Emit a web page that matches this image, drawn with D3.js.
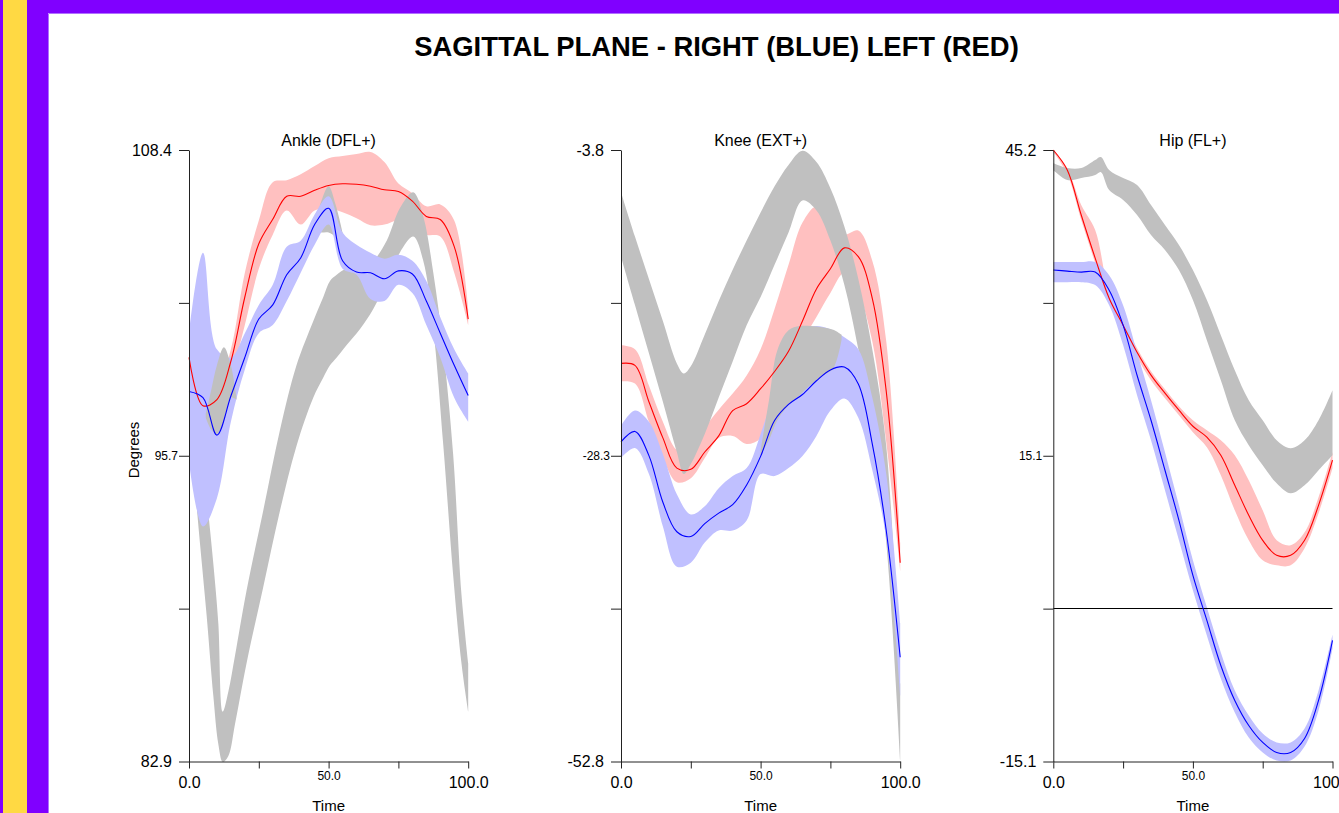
<!DOCTYPE html>
<html><head><meta charset="utf-8">
<script src="https://cdn.jsdelivr.net/npm/d3@7"></script>
<style>
body{margin:0;background:#fff;}
svg{display:block;}
text{font-family:"Liberation Sans",Arial,sans-serif;fill:#000;}
</style></head>
<body><svg id="c" width="1339" height="813"></svg>
<script>
// ---------------- DATA ----------------
const chartTitle = "SAGITTAL PLANE - RIGHT (BLUE) LEFT (RED)";
const panelTitles = ["Ankle (DFL+)", "Knee (EXT+)", "Hip (FL+)"];
const xTickLabels = ["0.0", "", "50.0", "", "100.0"];
const xTickValues = [0, 25, 50, 75, 100];
const time = [0,5,10,15,20,25,30,35,40,45,50,55,60,65,70,75,80,85,90,95,100];

// Ankle
const ankleDomain = [82.9, 108.4];
const ankleYLabels = ["108.4", "", "95.7", "", "82.9"];
const ankleRedMean = [99.75,97.74,97.99,99.59,102.27,104.49,105.51,106.47,106.47,106.72,106.92,106.99,106.97,106.89,106.74,106.67,106.27,105.63,105.50,104.37,101.35];
const ankleRedHi   = [100.01,98.24,98.49,100.09,103.28,105.46,107.06,107.14,107.39,107.73,108.06,108.15,108.23,108.32,107.90,107.0,106.6,106.05,106.13,105.46,101.77];
const ankleRedLo   = [99.50,97.23,97.40,98.91,101.10,103.45,104.87,105.88,105.29,105.88,105.97,105.80,105.55,105.26,105.29,105.46,105.21,104.87,104.79,103.28,101.10];
const ankleBlueMean = [98.33,98.07,96.51,98.14,99.75,101.35,101.94,103.20,103.90,105.29,105.97,103.78,103.31,103.28,103.03,103.36,103.23,102.10,100.76,99.42,98.16];
const ankleBlueHi   = [100.76,104.12,100.09,99.75,100.76,101.94,102.78,104.37,104.62,105.71,106.47,104.96,104.45,104.12,103.87,104.03,103.78,102.94,101.43,100.09,99.08];
const ankleBlueLo   = [95.39,92.70,93.88,97.07,99.25,100.76,101.10,102.10,103.28,104.45,105.29,103.45,103.20,102.19,102.10,102.78,102.44,101.10,99.75,98.07,97.07];
const ankleGrayT  = [0,2.2,3.9,6.3,8.7,10.5,12.1,14.1,16.5,20.6,26.6,32.6,38.5,44.5,48.1,50.5,52.9,56.4,61.2,66.0,70.8,75.5,80.3,83.9,87.5,91.1,94.6,97.6,100];
const ankleGrayHi = [100.59,98.91,96.82,93.99,91.17,88.67,84.98,85.82,87.33,90.02,93.37,96.73,99.42,101.26,102.27,102.94,103.20,103.45,103.45,103.78,104.62,105.97,106.64,105.63,103.28,100.09,95.72,89.85,86.99];
const ankleGrayLo = [96.73,94.21,92.03,89.01,85.65,83.63,82.88,83.13,84.47,86.99,90.18,93.37,96.06,98.07,98.91,99.42,99.75,100.26,100.93,101.77,102.94,104.12,104.79,103.78,100.93,96.06,90.69,86.99,84.98];
const anklePeakT  = [45,47.5,50,52.5,55];
const anklePeakHi = [105.21,106.30,106.89,106.13,104.96];
const anklePeakLo = [104.96,104.96,104.96,104.79,104.62];
const ankleBumpT  = [6,8,10,12.5,15,17];
const ankleBumpHi = [97.40,98.41,99.42,100.17,99.42,98.07];
const ankleBumpLo = [97.23,96.73,96.56,97.07,98.07,97.99];

// Knee
const kneeDomain = [-52.8, -3.8];
const kneeYLabels = ["-3.8", "", "-28.3", "", "-52.8"];
const kneeRedMean = [-20.90,-21.06,-23.97,-26.87,-29.29,-29.39,-28.00,-26.71,-24.68,-24.13,-22.93,-21.55,-19.93,-17.51,-14.93,-13.32,-11.64,-12.35,-15.68,-23.13,-36.87];
const kneeRedHi   = [-19.45,-19.77,-22.68,-25.58,-27.84,-28.00,-26.06,-24.61,-23.32,-21.87,-19.77,-16.55,-13.00,-9.61,-8.32,-9.93,-10.58,-10.26,-12.68,-19.13,-35.26];
const kneeRedLo   = [-22.35,-22.52,-25.58,-28.48,-30.42,-30.10,-28.48,-26.87,-26.71,-27.35,-26.87,-23.64,-21.71,-19.13,-17.19,-15.26,-13.64,-15.26,-19.13,-27.19,-37.52];
const kneeBlueMean = [-27.19,-26.35,-28.29,-32.03,-34.39,-34.77,-33.74,-32.90,-32.22,-30.64,-28.35,-25.48,-24.19,-23.39,-22.29,-21.42,-21.19,-22.55,-27.35,-34.29,-44.45];
const kneeBlueHi   = [-25.90,-24.68,-25.58,-28.16,-31.39,-33.00,-32.35,-30.90,-29.93,-29.29,-26.55,-23.00,-18.81,-18.16,-17.90,-18.16,-18.81,-19.77,-23.64,-29.77,-41.71];
const kneeBlueLo   = [-28.48,-27.68,-29.77,-33.97,-37.19,-36.87,-35.26,-34.29,-34.29,-33.48,-29.77,-29.93,-29.29,-28.32,-26.71,-24.68,-23.71,-25.26,-29.45,-34.93,-47.52];
const kneeGrayT  = [0,5,10,15,20,22.5,25,30,35,40,45,50,55,60,65,70,75,80,85,90,95,100];
const kneeGrayHi = [-7.19,-10.74,-14.13,-17.51,-20.90,-21.71,-21.13,-18.58,-15.90,-13.39,-11.06,-8.81,-6.71,-5.00,-3.87,-4.77,-6.87,-9.93,-14.13,-19.77,-27.51,-46.55];
const kneeGrayLo = [-12.35,-16.22,-20.09,-23.97,-28.00,-29.77,-28.97,-26.55,-23.64,-20.74,-17.84,-15.58,-13.00,-10.42,-7.84,-8.64,-11.06,-14.61,-19.77,-26.22,-35.26,-52.68];
const kneeHumpT  = [50,53,56,60,64,68,72,76,79];
const kneeHumpHi = [-27.86,-23.85,-19.84,-18.24,-17.91,-17.91,-18.0,-18.2,-18.6];
const kneeHumpLo = [-28.26,-27.06,-25.46,-24.25,-23.45,-22.6,-21.9,-21.3,-19.0];

// Hip
const hipDomain = [-15.1, 45.2];
const hipYLabels = ["45.2", "", "15.1", "", "-15.1"];
const hipRedMean = [45.2,43.23,38.79,34.54,30.59,27.93,25.26,23.00,21.22,19.54,17.96,16.88,15.10,12.14,9.18,6.71,5.23,5.23,6.71,10.16,14.61];
const hipRedHi   = [45.2,43.42,39.77,37.30,31.19,28.42,25.66,23.39,21.61,19.94,18.55,17.57,16.58,15.10,12.63,9.67,6.71,6.22,7.50,10.95,15.40];
const hipRedLo   = [45.0,42.83,38.29,34.05,30.10,27.44,24.77,22.50,20.72,19.05,17.37,15.89,13.13,9.67,6.71,4.74,4.24,4.24,5.92,9.37,13.82];
const hipBlueMean = [33.36,33.26,33.16,33.16,31.38,27.93,22.99,18.55,13.62,8.68,3.26,-1.18,-5.63,-9.08,-11.55,-13.22,-14.21,-14.21,-12.83,-9.08,-3.16];
const hipBlueHi   = [34.15,34.15,34.15,34.15,32.86,29.90,25.26,20.53,15.40,10.16,4.74,0.10,-4.34,-8.09,-10.56,-12.34,-13.22,-13.22,-11.84,-8.09,-2.57];
const hipBlueLo   = [32.17,32.17,32.17,31.88,29.90,25.96,21.02,16.58,11.64,6.71,1.78,-2.67,-6.91,-10.26,-12.73,-14.21,-15.00,-15.00,-13.62,-10.07,-3.95];
const hipGrayT  = [0,5,10,15,17,20,25,30,35,40,45,50,55,60,65,70,75,80,85,90,95,100];
const hipGrayHi = [43.92,43.42,43.42,44.21,44.51,43.23,42.44,41.75,39.77,37.80,35.82,33.36,30.40,26.94,23.49,20.53,18.55,16.58,15.79,16.58,18.55,21.51];
const hipGrayLo = [43.23,42.24,42.44,42.73,43.03,41.25,40.27,38.79,36.81,35.33,33.36,30.40,26.45,22.50,18.55,16.09,14.11,12.34,11.35,12.14,13.62,15.10];

// ---------------- DRAW ----------------
const svg = d3.select("#c");
const W = 1339, H = 813;
const PURPLE = "#8000ff", YELLOW = "#ffd943";
const C_PINK = "#ffc0c0", C_LBLUE = "#c0c0ff", C_GRAY = "#c0c0c0";

svg.append("rect").attr("width", W).attr("height", H).attr("fill", "#fff");
svg.append("rect").attr("x", 0).attr("y", 0).attr("width", W).attr("height", 13).attr("fill", PURPLE);
svg.append("rect").attr("x", 0).attr("y", 0).attr("width", 48).attr("height", H).attr("fill", PURPLE);
svg.append("rect").attr("x", 3).attr("y", 0).attr("width", 24).attr("height", H).attr("fill", YELLOW);
svg.append("path").attr("d", `M48.5,${H}V13.5H${W}`).attr("fill", "none").attr("stroke", "#b070ff").attr("stroke-width", 1);

svg.append("text").attr("x", 716.5).attr("y", 56).attr("text-anchor", "middle")
  .attr("font-size", 27.4).attr("font-weight", "bold").text(chartTitle);

const panels = [
  { x0: 189, title: panelTitles[0], domain: ankleDomain, yLabels: ankleYLabels,
    red: [ankleRedMean, ankleRedLo, ankleRedHi], blue: [ankleBlueMean, ankleBlueLo, ankleBlueHi],
    grayUnder: [[ankleGrayT, ankleGrayLo, ankleGrayHi], [anklePeakT, anklePeakLo, anklePeakHi]],
    grayOver: [[ankleBumpT, ankleBumpLo, ankleBumpHi]], degrees: true, zero: false },
  { x0: 621, title: panelTitles[1], domain: kneeDomain, yLabels: kneeYLabels,
    red: [kneeRedMean, kneeRedLo, kneeRedHi], blue: [kneeBlueMean, kneeBlueLo, kneeBlueHi],
    grayUnder: [[kneeGrayT, kneeGrayLo, kneeGrayHi]],
    grayOver: [[kneeHumpT, kneeHumpLo, kneeHumpHi]], degrees: false, zero: false },
  { x0: 1053.3, title: panelTitles[2], domain: hipDomain, yLabels: hipYLabels,
    red: [hipRedMean, hipRedLo, hipRedHi], blue: [hipBlueMean, hipBlueLo, hipBlueHi],
    grayUnder: [[hipGrayT, hipGrayLo, hipGrayHi]], grayOver: [], degrees: false, zero: true }
];

const PW = 279.2, YT = 150, YB = 761.5;

panels.forEach(p => {
  const g = svg.append("g");
  const x = d3.scaleLinear().domain([0, 100]).range([p.x0, p.x0 + PW]);
  const y = d3.scaleLinear().domain(p.domain).range([YB, YT]);
  const band = (t, lo, hi) => d3.area()
    .x((d, i) => x(t[i])).y0((d, i) => y(lo[i])).y1((d, i) => y(hi[i]))
    .curve(d3.curveCatmullRom)(lo);
  const line = (t, v) => d3.line().x((d, i) => x(t[i])).y(d => y(d)).curve(d3.curveCatmullRom)(v);

  g.append("path").attr("d", band(time, p.red[1], p.red[2])).attr("fill", C_PINK);
  p.grayUnder.forEach(gr => g.append("path").attr("d", band(gr[0], gr[1], gr[2])).attr("fill", C_GRAY));
  g.append("path").attr("d", band(time, p.blue[1], p.blue[2])).attr("fill", C_LBLUE);
  p.grayOver.forEach(gr => g.append("path").attr("d", band(gr[0], gr[1], gr[2])).attr("fill", C_GRAY));
  if (p.zero) {
    g.append("line").attr("x1", x(0)).attr("x2", x(100)).attr("y1", Math.round(y(0)) + 0.5).attr("y2", Math.round(y(0)) + 0.5)
      .attr("stroke", "#000").attr("stroke-width", 1);
  }
  g.append("path").attr("d", line(time, p.red[0])).attr("fill", "none").attr("stroke", "#ff0000").attr("stroke-width", 1.1);
  g.append("path").attr("d", line(time, p.blue[0])).attr("fill", "none").attr("stroke", "#0000ff").attr("stroke-width", 1.1);

  // y axis
  const yTickVals = d3.range(5).map(i => p.domain[1] - i * (p.domain[1] - p.domain[0]) / 4);
  const ya = g.append("g").attr("transform", `translate(${p.x0},0)`)
    .call(d3.axisLeft(y).tickValues(yTickVals).tickSize(10).tickSizeOuter(0)
      .tickFormat((d, i) => p.yLabels[i]));
  ya.selectAll("path,line").attr("stroke", "#222");
  ya.selectAll("text").attr("font-family", '"Liberation Sans",Arial,sans-serif')
    .attr("font-size", (d, i) => i === 2 ? 12 : 16)
    .attr("x", (d, i) => i === 2 ? -11 : -17).attr("fill", "#000");

  // x axis
  const xa = g.append("g").attr("transform", `translate(0,${YB})`)
    .call(d3.axisBottom(x).tickValues(xTickValues).tickSize(7).tickSizeOuter(0)
      .tickFormat((d, i) => xTickLabels[i]));
  xa.selectAll("path,line").attr("stroke", "#222");
  xa.selectAll("text").attr("font-family", '"Liberation Sans",Arial,sans-serif')
    .attr("font-size", (d, i) => i === 2 ? 12 : 16)
    .attr("y", (d, i) => i === 2 ? 10 : 15).attr("fill", "#000");

  g.append("text").attr("x", x(50)).attr("y", 146).attr("text-anchor", "middle")
    .attr("font-size", 16).text(p.title);
  g.append("text").attr("x", x(50)).attr("y", 811).attr("text-anchor", "middle")
    .attr("font-size", 15).text("Time");
  if (p.degrees) {
    g.append("text").attr("transform", `translate(139,450) rotate(-90)`).attr("text-anchor", "middle")
      .attr("font-size", 15).text("Degrees");
  }
});
</script>
</body></html>
